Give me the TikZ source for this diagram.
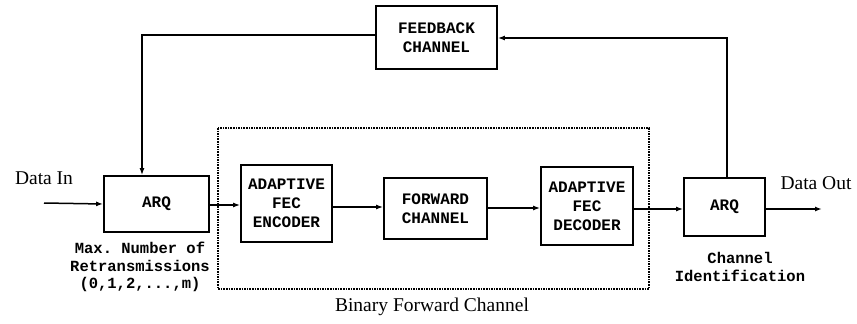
\documentclass[tikz,border=0pt]{standalone}
\usepackage{fontspec}
\setmainfont{Liberation Serif}
\setmonofont{Liberation Mono}
\usetikzlibrary{positioning,arrows.meta}
\newcommand{\boxfont}{\ttfamily\bfseries\fontsize{16}{19}\selectfont}
\newcommand{\notefont}{\ttfamily\bfseries\fontsize{15.5}{17.5}\selectfont}
\newcommand{\capfont}{\fontsize{19.5}{22}\selectfont}

\begin{document}
\begin{tikzpicture}[x=1pt,y=-1pt,
  block/.style={draw,line width=1.8pt,align=center,inner sep=0pt,font=\boxfont},
  flow/.style={line width=1.5pt,-{Latex[length=7pt,width=5pt]}}]
\useasboundingbox (0,0) rectangle (857,324);
% blocks
\node[block,minimum width=121pt,minimum height=63pt] (fb) at (436.5,37.5) {FEEDBACK\\CHANNEL};
\node[block,minimum width=105pt,minimum height=56pt] (arqin) at (156.5,204) {ARQ};
\node[block,minimum width=91pt,minimum height=77pt] (enc) at (286.5,203.5) {ADAPTIVE\\FEC\\ENCODER};
\node[block,minimum width=103pt,minimum height=61pt] (fwd) at (435.5,208.5) {FORWARD\\CHANNEL};
\node[block,minimum width=92pt,minimum height=78pt] (dec) at (587,206) {ADAPTIVE\\FEC\\DECODER};
\node[block,minimum width=81pt,minimum height=58pt] (arqout) at (724.5,207) {ARQ};
% binary forward channel frame
\draw[line width=1.6pt,densely dotted] (218,128) rectangle (649,289);
% labels
\node[font=\capfont] (din) at (44,178) {Data In};
\node[font=\capfont] (dout) at (816,183) {Data Out};
\node[font=\capfont] (bfc) at (432,307) {Binary Forward Channel};
\node[align=center,font=\notefont,inner sep=0pt] (maxr) at (140,267) {Max. Number of\\Retransmissions\\(0,1,2,...,m)};
\node[align=center,font=\notefont,inner sep=0pt] (chid) at (740,267) {Channel\\Identification};
% connectors
\coordinate (src) at (44,203);
\coordinate (snk) at (822,209);
\draw[flow] (src) -- (arqin.west);
\draw[flow] (arqin.east |- 0,205) -- (enc.west |- 0,205);
\draw[flow] (enc.east |- 0,207) -- (fwd.west |- 0,207);
\draw[flow] (fwd.east |- 0,208) -- (dec.west |- 0,208);
\draw[flow] (dec.east |- 0,209) -- (arqout.west |- 0,209);
\draw[flow] (arqout.east |- 0,209) -- (snk);
\draw[flow] (fb.west |- 0,35) -| (arqin.north -| 142,0);
\draw[flow] (arqout.north -| 727,0) |- (fb.east |- 0,38);
\end{tikzpicture}
\end{document}
